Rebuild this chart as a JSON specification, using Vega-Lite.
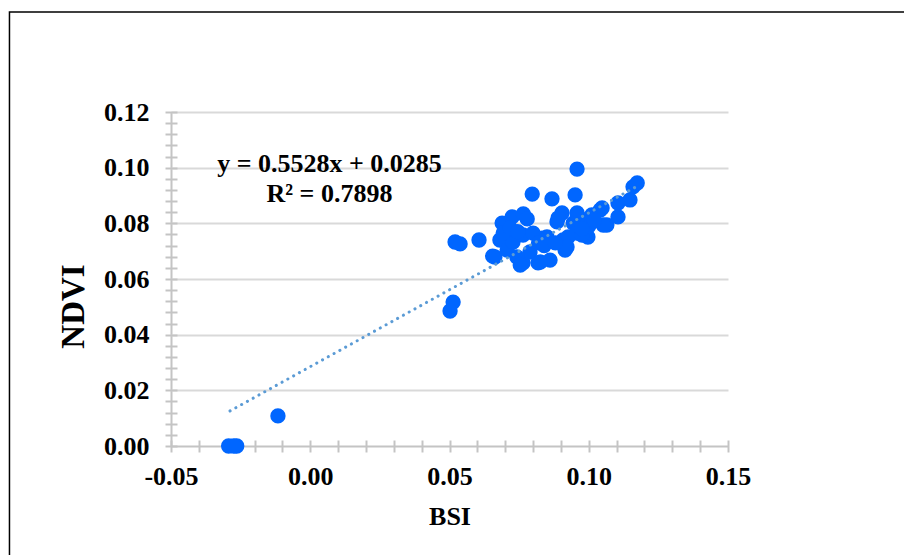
{
  "$schema": "https://vega.github.io/schema/vega-lite/v6.json",
  "autosize": {"type": "none"},
  "width": 557,
  "height": 334,
  "padding": {"left": 171, "top": 112, "right": 176, "bottom": 109},
  "background": "white",
  "config": {"view": {"stroke": null}},
  "datasets": {
    "pts": [
      {"BSI": -0.0293, "NDVI": 0.0}, {"BSI": -0.0264, "NDVI": 0.0}, {"BSI": -0.0275, "NDVI": 0.0},
      {"BSI": -0.0116, "NDVI": 0.0108},
      {"BSI": 0.0513, "NDVI": 0.0517}, {"BSI": 0.0502, "NDVI": 0.0485},
      {"BSI": 0.0520, "NDVI": 0.0733}, {"BSI": 0.0538, "NDVI": 0.0726},
      {"BSI": 0.0606, "NDVI": 0.0740},
      {"BSI": 0.0689, "NDVI": 0.0801}, {"BSI": 0.0725, "NDVI": 0.0823}, {"BSI": 0.0765, "NDVI": 0.0834},
      {"BSI": 0.0779, "NDVI": 0.0816}, {"BSI": 0.0681, "NDVI": 0.0740}, {"BSI": 0.0663, "NDVI": 0.0679},
      {"BSI": 0.0707, "NDVI": 0.0704}, {"BSI": 0.0728, "NDVI": 0.0733}, {"BSI": 0.0764, "NDVI": 0.0758},
      {"BSI": 0.0800, "NDVI": 0.0765}, {"BSI": 0.0832, "NDVI": 0.0747}, {"BSI": 0.0850, "NDVI": 0.0751},
      {"BSI": 0.0764, "NDVI": 0.0658}, {"BSI": 0.0818, "NDVI": 0.0658}, {"BSI": 0.0861, "NDVI": 0.0668},
      {"BSI": 0.0789, "NDVI": 0.0697}, {"BSI": 0.0742, "NDVI": 0.0679}, {"BSI": 0.0886, "NDVI": 0.0805},
      {"BSI": 0.0904, "NDVI": 0.0837}, {"BSI": 0.0908, "NDVI": 0.0740}, {"BSI": 0.0915, "NDVI": 0.0704},
      {"BSI": 0.0926, "NDVI": 0.0751}, {"BSI": 0.0944, "NDVI": 0.0801}, {"BSI": 0.0958, "NDVI": 0.0765},
      {"BSI": 0.0693, "NDVI": 0.0765},
      {"BSI": 0.0797, "NDVI": 0.0905}, {"BSI": 0.0868, "NDVI": 0.0888}, {"BSI": 0.0951, "NDVI": 0.0902},
      {"BSI": 0.0958, "NDVI": 0.0995},
      {"BSI": 0.0922, "NDVI": 0.0715}, {"BSI": 0.0962, "NDVI": 0.0823}, {"BSI": 0.0997, "NDVI": 0.0751},
      {"BSI": 0.0987, "NDVI": 0.0812}, {"BSI": 0.1011, "NDVI": 0.0830}, {"BSI": 0.1048, "NDVI": 0.0855},
      {"BSI": 0.1065, "NDVI": 0.0794}, {"BSI": 0.1105, "NDVI": 0.0873}, {"BSI": 0.1105, "NDVI": 0.0823},
      {"BSI": 0.1148, "NDVI": 0.0884}, {"BSI": 0.1159, "NDVI": 0.0931}, {"BSI": 0.1174, "NDVI": 0.0945},
      {"BSI": 0.0655, "NDVI": 0.0682}, {"BSI": 0.0754, "NDVI": 0.0650}, {"BSI": 0.0826, "NDVI": 0.0661},
      {"BSI": 0.0976, "NDVI": 0.0758}, {"BSI": 0.1041, "NDVI": 0.0848}, {"BSI": 0.1052, "NDVI": 0.0794},
      {"BSI": 0.0958, "NDVI": 0.0837}, {"BSI": 0.0890, "NDVI": 0.0819},
      {"BSI": 0.0718, "NDVI": 0.0783}, {"BSI": 0.0745, "NDVI": 0.0770}, {"BSI": 0.0820, "NDVI": 0.0730},
      {"BSI": 0.0840, "NDVI": 0.0720}, {"BSI": 0.0880, "NDVI": 0.0730}, {"BSI": 0.1000, "NDVI": 0.0790},
      {"BSI": 0.1020, "NDVI": 0.0810}, {"BSI": 0.0975, "NDVI": 0.0780}
    ],
    "trend": [
      {"BSI": -0.0288, "NDVI": 0.0126},
      {"BSI": 0.1180, "NDVI": 0.0937}
    ]
  },
  "layer": [
    {
      "data": {"name": "pts"},
      "mark": {"type": "circle", "size": 235, "color": "#0066ff", "opacity": 1},
      "encoding": {
        "x": {
          "field": "BSI", "type": "quantitative",
          "scale": {"domain": [-0.05, 0.15], "nice": false, "zero": false},
          "axis": {
            "title": "BSI",
            "titleFont": "Liberation Serif", "titleFontSize": 26, "titleFontWeight": "bold", "titleColor": "#000",
            "titlePadding": 14,
            "tickCount": 1000,
            "values": [-0.05,-0.04,-0.03,-0.02,-0.01,0,0.01,0.02,0.03,0.04,0.05,0.06,0.07,0.08,0.09,0.1,0.11,0.12,0.13,0.14,0.15],
            "labelExpr": "abs(datum.value*20 - round(datum.value*20)) < 0.001 ? replace(format(datum.value, '.2f'), '\u2212', '-') : ''",
            "labelFont": "Liberation Serif", "labelFontSize": 26, "labelFontWeight": "bold", "labelColor": "#000",
            "labelOverlap": false, "labelPadding": 11, "labelFlush": false,
            "domain": false,
            "offset": -6,
            "tickSize": 12, "tickWidth": 2, "tickColor": "#c4c4c4",
            "grid": true,
            "gridColor": "#c4c4c4", "gridWidth": 2,
            "gridOpacity": {"condition": {"test": "datum.value < -0.0499", "value": 1}, "value": 0}
          }
        },
        "y": {
          "field": "NDVI", "type": "quantitative",
          "scale": {"domain": [0, 0.12], "nice": false, "zero": false},
          "axis": {
            "title": "NDVI",
            "titleFont": "Liberation Serif", "titleFontSize": 33, "titleFontWeight": "bold", "titleColor": "#000",
            "titlePadding": 13, "titleY": 194,
            "tickCount": 1000,
            "values": [0,0.004,0.008,0.012,0.016,0.02,0.024,0.028,0.032,0.036,0.04,0.044,0.048,0.052,0.056,0.06,0.064,0.068,0.072,0.076,0.08,0.084,0.088,0.092,0.096,0.1,0.104,0.108,0.112,0.116,0.12],
            "labelExpr": "abs(datum.value*50 - round(datum.value*50)) < 0.001 ? format(datum.value, '.2f') : ''",
            "labelFont": "Liberation Serif", "labelFontSize": 26, "labelFontWeight": "bold", "labelColor": "#000",
            "labelOverlap": false, "labelPadding": 16, "labelFlush": false,
            "domain": false,
            "offset": -6,
            "tickSize": 12, "tickWidth": 2, "tickColor": "#c4c4c4",
            "grid": true,
            "gridWidth": 2,
            "gridColor": {"condition": {"test": "datum.value < 0.001", "value": "#c4c4c4"}, "value": "#d9d9d9"},
            "gridOpacity": {"condition": {"test": "abs(datum.value*50 - round(datum.value*50)) < 0.001", "value": 1}, "value": 0}
          }
        }
      }
    },
    {
      "data": {"name": "trend"},
      "mark": {"type": "line", "color": "#5b9bd5", "strokeWidth": 3, "strokeDash": [0.1, 6.5], "strokeCap": "round"},
      "encoding": {
        "x": {"field": "BSI", "type": "quantitative"},
        "y": {"field": "NDVI", "type": "quantitative"}
      }
    },
    {
      "data": {"values": [{}]},
      "mark": {"type": "text", "text": "y = 0.5528x + 0.0285", "font": "Liberation Serif", "fontSize": 26, "fontWeight": "bold", "color": "#000", "align": "center", "baseline": "alphabetic"},
      "encoding": {
        "x": {"datum": 0.0069, "type": "quantitative"},
        "y": {"datum": 0.0985, "type": "quantitative"}
      }
    },
    {
      "data": {"values": [{}]},
      "mark": {"type": "text", "text": "R\u00b2 = 0.7898", "font": "Liberation Serif", "fontSize": 26, "fontWeight": "bold", "color": "#000", "align": "center", "baseline": "alphabetic"},
      "encoding": {
        "x": {"datum": 0.0069, "type": "quantitative"},
        "y": {"datum": 0.0877, "type": "quantitative"}
      }
    },
    {
      "data": {"values": [{}]},
      "mark": {"type": "rect", "fill": null, "fillOpacity": 0, "stroke": "#000", "strokeWidth": 1.5, "clip": false},
      "encoding": {
        "x": {"datum": -0.108, "type": "quantitative"},
        "x2": {"datum": 0.25},
        "y": {"datum": 0.1559, "type": "quantitative"},
        "y2": {"datum": -0.06}
      }
    }
  ]
}
